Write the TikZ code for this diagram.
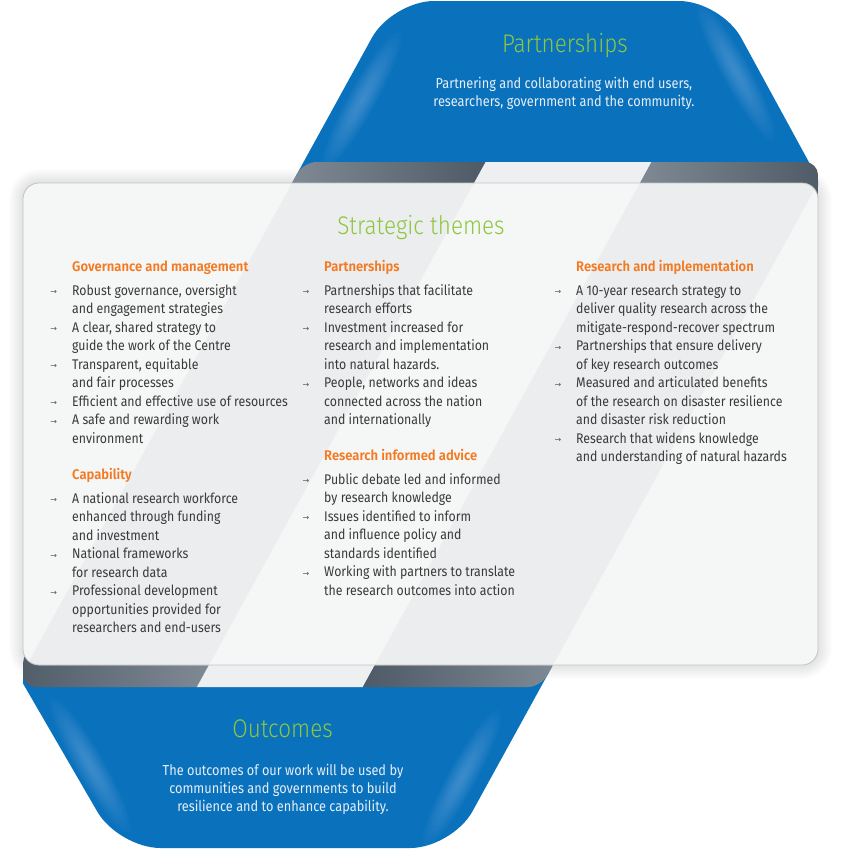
\documentclass[tikz,border=0pt]{standalone}
\usepackage{fontspec}
\setmainfont{Fira Sans}[FakeStretch=0.88, BoldFont={Fira Sans SemiBold}]
\newfontfamily\lightfont{Fira Sans Light}[FakeStretch=0.88]
\newfontfamily\hdfamily{Fira Sans SemiBold}[FakeStretch=0.93]
\newfontfamily\arrowfont{DejaVu Sans}
\definecolor{rbblue}{HTML}{0A72BD}
\definecolor{rbhl}{HTML}{8AB8E4}
\definecolor{ttlgreen}{HTML}{8DC63F}
\definecolor{hdorange}{HTML}{F47920}
\definecolor{bodytxt}{HTML}{3A3A3A}
\definecolor{panelbg}{HTML}{F5F6F6}
\definecolor{panelstrip}{HTML}{ECEDEE}
\definecolor{panelborder}{HTML}{C3C4C5}
\definecolor{bandlight}{HTML}{828D98}
\definecolor{banddark}{HTML}{4C5863}
\definecolor{bandgap}{HTML}{EEEFF0}
\definecolor{onblue}{HTML}{E6EEF6}
\newcommand\bodyfnt{\fontsize{14}{18.5}\selectfont}
\newcommand\hdfnt{\hdfamily\fontsize{14}{18.5}\selectfont}
\newcommand\ttlfnt{\lightfont\fontsize{25.5}{30}\selectfont}
\newcommand\blufnt{\fontsize{14.5}{18.3}\selectfont}
\newcommand\rbul{\llap{\raisebox{0.5pt}{\arrowfont\fontsize{8}{8}\selectfont\textcolor{bodytxt!85}{→}}\hspace{15pt}}}
\tikzset{
  hd/.style={anchor=base west, inner sep=0pt, font=\hdfnt, text=hdorange},
  lst/.style={anchor=base west, inner sep=0pt, font=\bodyfnt, text=bodytxt, align=left},
  ttl/.style={anchor=base, inner sep=0pt, font=\ttlfnt, text=ttlgreen},
  blu/.style={anchor=base, inner sep=0pt, font=\blufnt, text=onblue, align=center},
  glow/.style={rbhl, opacity=0.04},
}
\begin{document}
\begin{tikzpicture}[x=1pt,y=-1pt]
\useasboundingbox (0,0) rectangle (843,849);
\fill[white] (0,0) rectangle (843,849);

% panel shadow
\foreach \i [evaluate=\i as \r using 16+\i] in {1,...,14}{
  \fill[black, opacity=0.007, rounded corners=\r pt] ({23-\i},{183-\i}) rectangle ({818+\i},{665+\i});
}

% top blue ribbon face
\begin{scope}
  \clip (0,0) -- (843,0) -- (843,160) -- (818,160) -- (818,186) -- (0,186) -- cycle;
  \fill[rbblue, rounded corners=42pt] (255.2,250) -- (392.1,1) -- (721.1,1) -- (856.8,250) -- cycle;
  \foreach \k in {1,...,14}{
    \fill[glow, rotate around={61:(362,100)}] (362,100) ellipse ({5.5*\k} and {1.0*\k});
    \fill[glow, rotate around={118.6:(736,72)}] (736,72) ellipse ({5.5*\k} and {1.0*\k});
  }
\end{scope}

% bottom blue ribbon face
\begin{scope}
  \clip (23,666) -- (843,666) -- (843,849) -- (0,849) -- (0,686) -- (23,686) -- cycle;
  \fill[rbblue, rounded corners=42pt] (-26,599) -- (118.4,848) -- (452.3,848) -- (589.2,599) -- cycle;
  \foreach \k in {1,...,14}{
    \fill[glow, rotate around={-60:(90,765)}] (90,765) ellipse ({5.5*\k} and {1.0*\k});
    \fill[glow, rotate around={61.2:(462,778)}] (462,778) ellipse ({5.5*\k} and {1.0*\k});
  }
\end{scope}

% top fold band
\begin{scope}
  \clip[rounded corners=13pt] (279.9,205) -- (303.6,162) -- (818,162) -- (818,205) -- cycle;
  \shade[left color=bandlight, right color=banddark] (310.2,150) -- (492.2,150) -- (459.2,210) -- (277.2,210) -- cycle;
  \fill[bandgap] (492.2,150) -- (658.2,150) -- (625.2,210) -- (459.2,210) -- cycle;
  \shade[left color=bandlight, right color=banddark] (658.2,150) -- (830,150) -- (830,210) -- (625.2,210) -- cycle;
\end{scope}

% bottom fold band
\begin{scope}
  \clip[rounded corners=13pt] (23,650) -- (23,687) -- (540.8,687) -- (561,650) -- cycle;
  \shade[left color=banddark, right color=bandlight] (0,640) -- (222.7,640) -- (189.7,700) -- (0,700) -- cycle;
  \fill[bandgap] (222.7,640) -- (388.7,640) -- (355.7,700) -- (189.7,700) -- cycle;
  \shade[left color=banddark, right color=bandlight] (388.7,640) -- (570,640) -- (570,700) -- (355.7,700) -- cycle;
\end{scope}

% panel
\fill[panelbg, rounded corners=16pt] (23,183) rectangle (818,665);
\begin{scope}
  \clip[rounded corners=16pt] (23,183) rectangle (818,665);
  \fill[panelstrip] (299.2,170) -- (481.2,170) -- (200.7,680) -- (18.7,680) -- cycle;
  \fill[panelstrip] (647.2,170) -- (825.2,170) -- (544.7,680) -- (366.7,680) -- cycle;
\end{scope}
\draw[panelborder, line width=0.8pt, rounded corners=16pt] (23,183) rectangle (818,665);

% titles and blue texts (base anchor of a multi-line node = last line)
\node[ttl] (ptitle) at (565,52) {Partnerships};
\node[blu] (ptext) at (564,106.6) {Partnering and collaborating with end users,\\researchers, government and the community.};
\node[ttl] (stitle) at (421,234) {Strategic themes};
\node[ttl] (otitle) at (282.5,737) {Outcomes};
\node[blu] (otext) at (283,811.6) {The outcomes of our work will be used by\\communities and governments to build\\resilience and to enhance capability.};

% column 1
\node[hd] (h1) at (72,271) {Governance and management};
\node[lst] (l1) at (72,443) {\rbul Robust governance, oversight\\
and engagement strategies\\
\rbul A clear, shared strategy to\\
guide the work of the Centre\\
\rbul Transparent, equitable\\
and fair processes\\
\rbul Efficient and effective use of resources\\
\rbul A safe and rewarding work\\
environment};
\node[hd] (h2) at (72,479.5) {Capability};
\node[lst] (l2) at (72,632.5) {\rbul A national research workforce\\
enhanced through funding\\
and investment\\
\rbul National frameworks\\
for research data\\
\rbul Professional development\\
opportunities provided for\\
researchers and end-users};

% column 2
\node[hd] (h3) at (324,271) {Partnerships};
\node[lst] (l3) at (324,424.5) {\rbul Partnerships that facilitate\\
research efforts\\
\rbul Investment increased for\\
research and implementation\\
into natural hazards.\\
\rbul People, networks and ideas\\
connected across the nation\\
and internationally};
\node[hd] (h4) at (324,460.5) {Research informed advice};
\node[lst] (l4) at (324,595) {\rbul Public debate led and informed\\
by research knowledge\\
\rbul Issues identified to inform\\
and influence policy and\\
standards identified\\
\rbul Working with partners to translate\\
the research outcomes into action};

% column 3
\node[hd] (h5) at (576,271) {Research and implementation};
\node[lst] (l5) at (576,461.5) {\rbul A 10-year research strategy to\\
deliver quality research across the\\
mitigate-respond-recover spectrum\\
\rbul Partnerships that ensure delivery\\
of key research outcomes\\
\rbul Measured and articulated benefits\\
of the research on disaster resilience\\
and disaster risk reduction\\
\rbul Research that widens knowledge\\
and understanding of natural hazards};
\end{tikzpicture}
\end{document}
